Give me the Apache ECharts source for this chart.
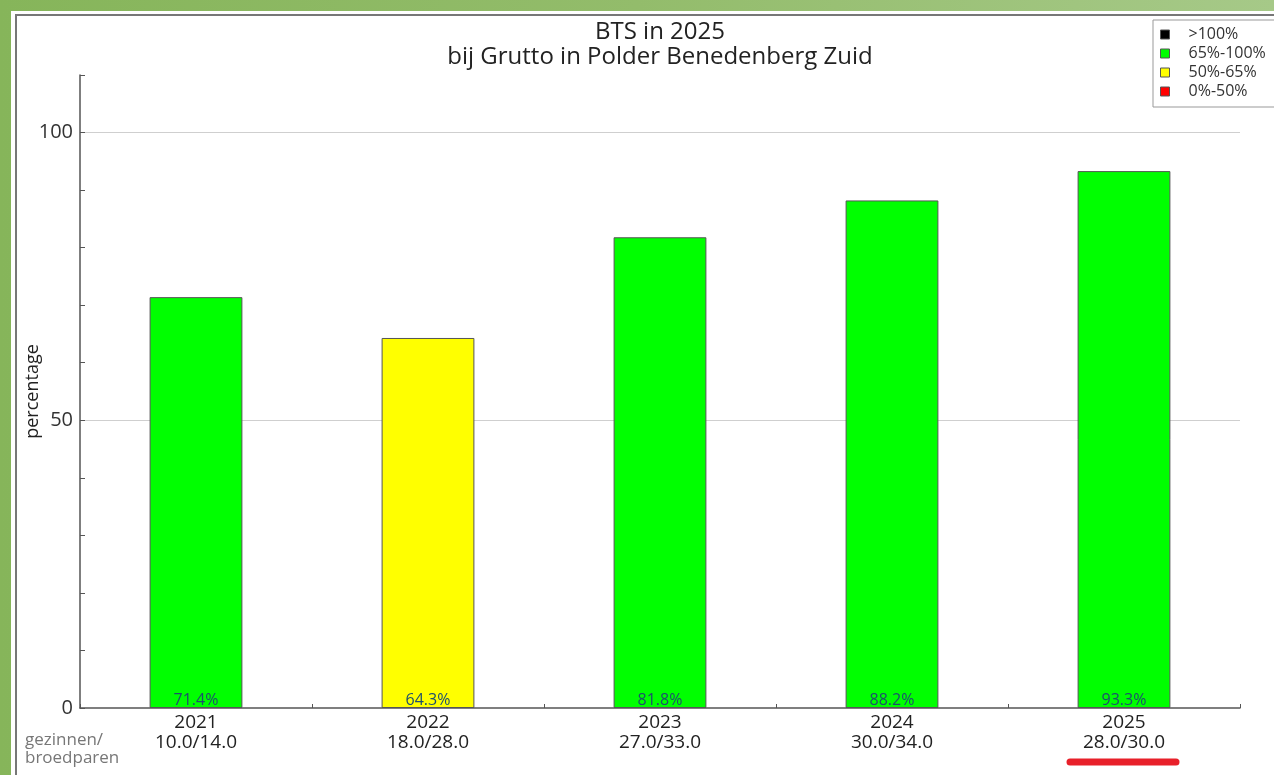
<!DOCTYPE html>
<html>
<head>
<meta charset="utf-8">
<script src="https://cdn.jsdelivr.net/npm/echarts@6/dist/echarts.min.js"></script>
<style>
  html, body { margin: 0; padding: 0; width: 1274px; height: 775px; overflow: hidden; }
  body { background: linear-gradient(90deg, #86b55a 0%, #93bc6b 50%, #a6c988 100%); position: relative; }
  #panel { position: absolute; left: 11px; top: 11px; width: 1300px; height: 800px; background: #fff; }
  #frame { position: absolute; left: 4px; top: 3px; width: 1300px; height: 800px; border-left: 2px solid #777; border-top: 2px solid #777; }
  #main { position: absolute; left: 0; top: 0; width: 1274px; height: 775px; }
</style>
</head>
<body>
<div id="panel"><div id="frame"></div></div>
<div id="main"></div>
<script>
// jaren en aantallen
var years = ['2021', '2022', '2023', '2024', '2025'];
var counts = ['10.0/14.0', '18.0/28.0', '27.0/33.0', '30.0/34.0', '28.0/30.0'];
var percentages = [71.4, 64.3, 81.8, 88.2, 93.3];

// klassen voor de legenda
var classNames = ['>100%', '65%-100%', '50%-65%', '0%-50%'];
var classColors = ['#000000', '#00ff00', '#ffff00', '#ff0000'];

var FONT = 'Open Sans';

function classOf(v) {
    if (v > 100) return 0;
    if (v >= 65) return 1;
    if (v >= 50) return 2;
    return 3;
}

var categories = years.map(function (y, i) { return y + '\n' + counts[i]; });

var series = classNames.map(function (name, k) {
    return {
        name: name,
        type: 'bar',
        barWidth: '40%',
        barGap: '-100%',
        itemStyle: { color: classColors[k], borderColor: '#555', borderWidth: 1 },
        label: {
            show: true,
            position: 'insideBottom',
            distance: 0,
            color: '#1d4f6e',
            fontSize: 16,
            fontFamily: FONT,
            formatter: function (p) { return p.value + '%'; }
        },
        data: percentages.map(function (v) { return classOf(v) === k ? v : '-'; })
    };
});

// rasterlijnen alleen op 50 en 100
series[1].markLine = {
    silent: true,
    symbol: 'none',
    label: { show: false },
    lineStyle: { color: '#cfcfcf', type: 'solid', width: 1 },
    data: [{ yAxis: 50 }, { yAxis: 100 }],
    z: 0
};

var option = {
    backgroundColor: 'transparent',
    animation: false,
    textStyle: { fontFamily: FONT },
    title: {
        text: 'BTS in 2025\nbij Grutto in Polder Benedenberg Zuid',
        left: 655,
        top: 15,
        textAlign: 'center',
        textStyle: { fontSize: 24, fontWeight: 'normal', color: '#222', lineHeight: 25, fontFamily: FONT }
    },
    legend: {
        orient: 'vertical',
        left: 1153,
        top: 20,
        itemWidth: 9,
        itemHeight: 9,
        itemGap: 0,
        padding: [5, 10, 6, 7],
        borderColor: '#999',
        borderWidth: 1,
        backgroundColor: '#fff',
        icon: 'rect',
        itemStyle: { borderColor: '#555', borderWidth: 1 },
        textStyle: { fontSize: 16, color: '#333', fontFamily: FONT, lineHeight: 19, padding: [0, 0, 0, 14] },
        data: classNames
    },
    grid: { left: 80, right: 34, top: 75, bottom: 67 },
    xAxis: {
        type: 'category',
        data: categories,
        axisLine: { lineStyle: { color: '#555', width: 1.5 } },
        axisTick: { show: true, inside: true, length: 4, lineStyle: { color: '#555' } },
        axisLabel: { color: '#222', fontSize: 19, lineHeight: 20, margin: 5, fontFamily: FONT }
    },
    yAxis: {
        type: 'value',
        min: 0,
        max: 110,
        interval: 10,
        name: 'percentage',
        nameLocation: 'middle',
        nameGap: 38,
        nameMoveOverlap: false,
        nameTextStyle: { fontSize: 18, color: '#222', fontFamily: FONT },
        axisLine: { show: true, lineStyle: { color: '#555', width: 1.5 } },
        axisTick: { show: true, inside: true, length: 5, lineStyle: { color: '#555' } },
        splitLine: { show: false },
        axisLabel: {
            color: '#333',
            fontSize: 20,
            margin: 7,
            fontFamily: FONT,
            formatter: function (v) { return v % 50 === 0 ? String(v) : ''; }
        }
    },
    graphic: [
        {
            type: 'text',
            left: 25,
            top: 731,
            style: { text: 'gezinnen/\nbroedparen', fill: '#777', fontSize: 17, lineHeight: 18, fontFamily: FONT }
        },
        {
            type: 'line',
            shape: { x1: 1070, y1: 762, x2: 1176, y2: 762 },
            style: { stroke: '#e8202a', lineWidth: 7, lineCap: 'round' }
        }
    ],
    series: series
};

var myChart = echarts.init(document.getElementById('main'));
myChart.setOption(option);
</script>
</body>
</html>
